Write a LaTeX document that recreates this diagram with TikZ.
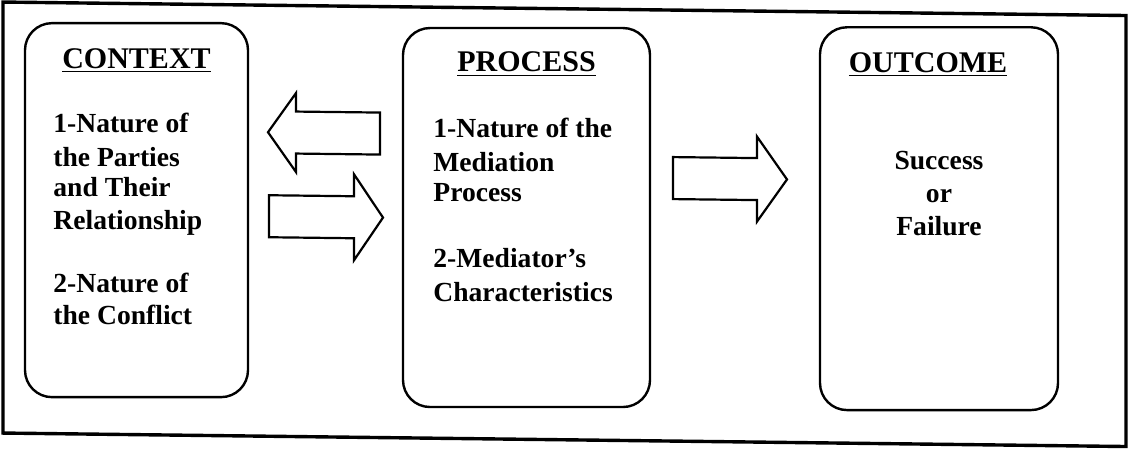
\documentclass[tikz,border=0pt]{standalone}
\usepackage{fontspec}
\setmainfont{Liberation Serif}
\begin{document}
\begin{tikzpicture}[x=0.5pt,y=-0.5pt,
  frame/.style={line width=1.7pt},
  panel/.style={draw,line width=1.2pt,rounded corners=13.5pt,inner sep=0pt,outer sep=0pt},
  blockarrow/.style={draw,line width=1.1pt,line join=miter},
  head/.style={font=\fontsize{15}{18}\selectfont\bfseries,inner sep=0pt,anchor=base},
  body/.style={font=\fontsize{13.8}{16}\selectfont\bfseries,inner sep=0pt,anchor=base west},
  cbody/.style={font=\fontsize{13.8}{16}\selectfont\bfseries,inner sep=0pt,anchor=base}]
\useasboundingbox (0,0) rectangle (1129,452);
\fill[white] (0,0) rectangle (1129,452);
\begin{scope}[yslant=-0.012]
  % outer frame
  \draw[frame] (3,2) rectangle (1126,433);
  % panels
  \node[panel,minimum width=111.5pt,minimum height=187pt] (ctx) at (136.5,208.5) {};
  \node[panel,minimum width=123.5pt,minimum height=189.5pt] (proc) at (526.5,211.2) {};
  \node[panel,minimum width=119pt,minimum height=191.4pt] (out) at (939,207.4) {};
  % headings
  \node[head] (ctxh) at (136.5,66.5) {\underline{CONTEXT}};
  \node[head] (proch) at (526.5,65.5) {\underline{PROCESS}};
  \node[head] (outh) at (928,61) {\underline{OUTCOME}};
  % context text
  \node[body] (c1) at (53,131.6) {1-Nature of};
  \node[body] (c2) at (53,165.6) {the Parties};
  \node[body] (c3) at (53,195.6) {and Their};
  \node[body] (c4) at (53,228.6) {Relationship};
  \node[body] (c5) at (53,291.6) {2-Nature of};
  \node[body] (c6) at (53,323.6) {the Conflict};
  % process text
  \node[body] (p1) at (433,132) {1-Nature of the};
  \node[body] (p2) at (433,166) {Mediation};
  \node[body] (p3) at (433,196) {Process};
  \node[body] (p4) at (433,262) {2-Mediator's};
  \node[body] (p5) at (433,296) {Characteristics};
  % outcome text
  \node[cbody] (o1) at (939,158.7) {Success};
  \node[cbody] (o2) at (939,191.7) {or};
  \node[cbody] (o3) at (939,224.7) {Failure};
  % block arrows
  \draw[blockarrow] (268,129) -- (296,89.5) -- (296,108) -- (380,108) -- (380,150)
        -- (296,150) -- (296,168.5) -- cycle;
  \draw[blockarrow] (383,213) -- (354,170) -- (354,192) -- (269,192) -- (269,234)
        -- (354,234) -- (354,256) -- cycle;
  \draw[blockarrow] (787,170) -- (757,127.5) -- (757,149) -- (673,149) -- (673,191)
        -- (757,191) -- (757,212.5) -- cycle;
\end{scope}
\end{tikzpicture}
\end{document}
